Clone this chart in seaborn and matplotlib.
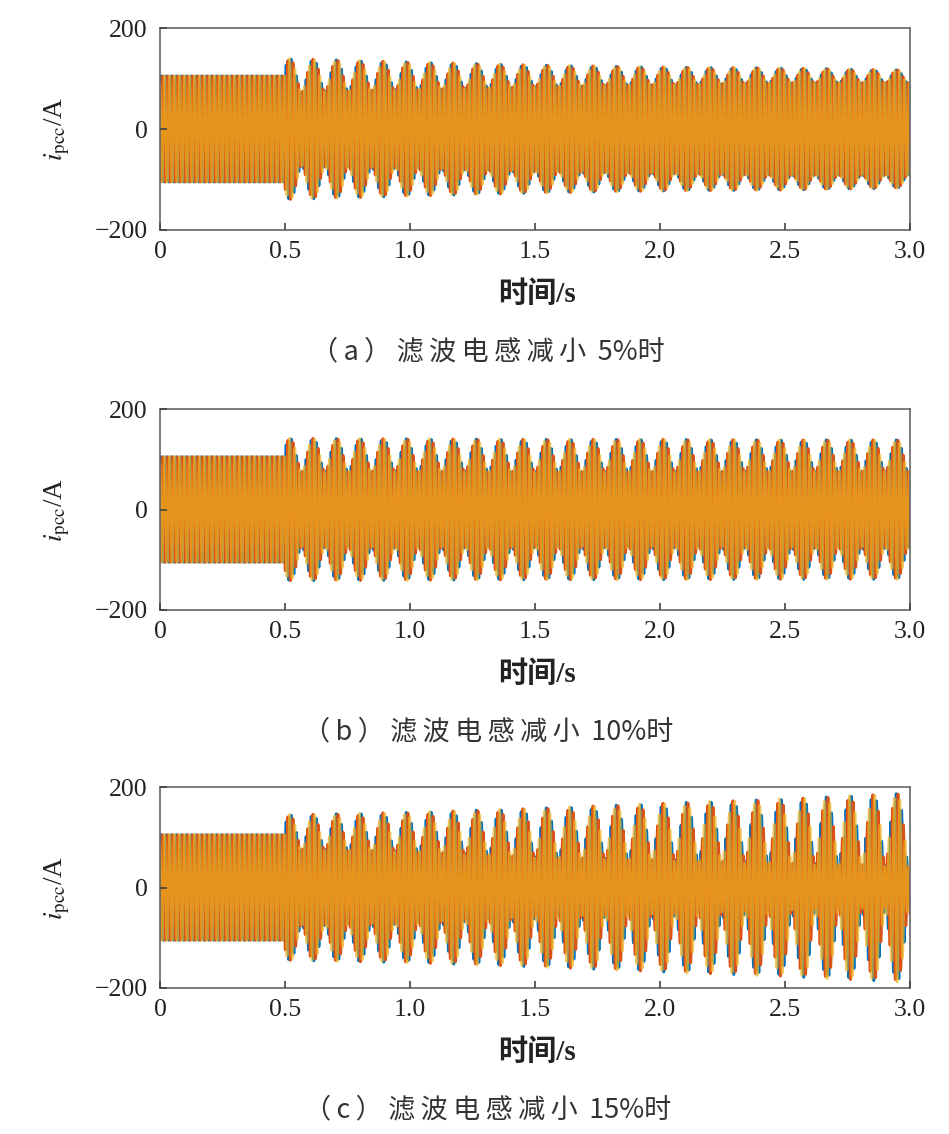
import numpy as np
import pandas as pd
import matplotlib
matplotlib.use("Agg")
import matplotlib.pyplot as plt
import seaborn as sns

# ---- values ----
f_grid = 50.0            # fundamental, Hz
f_beat = 10.71           # envelope beat frequency after the disturbance, Hz
t_step = 0.5             # disturbance instant, s
t_first_peak = 0.52      # first envelope maximum, s
amp_pre = 105.0          # current amplitude before 0.5 s, A

# envelope knots (s) and amplitudes:
# fundamental part (amp_main) and oscillating part (amp_osc)
knot_t = [0.5, 1.0, 1.5, 2.0, 2.5, 3.0]
amp_main_a = [106, 105, 105, 105, 106, 104]
amp_osc_a = [34, 28, 22, 18, 15, 13]
amp_main_b = [108, 108, 107, 107, 107, 107]
amp_osc_b = [34, 33, 33, 33, 32, 32]
amp_main_c = [110, 110, 108, 110, 111, 114]
amp_osc_c = [35, 40, 50, 58, 66, 75]

cap_tags = ["a", "b", "c"]
cap_body = "滤波电感减小"
cap_pct = ["5%时", "10%时", "15%时"]
x_ticks = [0, 0.5, 1.0, 1.5, 2.0, 2.5, 3.0]
x_tick_labels = ["0", "0.5", "1.0", "1.5", "2.0", "2.5", "3.0"]
y_ticks = [-200, 0, 200]
y_tick_labels = ["\u2212200", "0", "200"]
phase_names = ["a", "b", "c"]
phase_colors = ["#0072BD", "#D95319", "#EDB120"]
phase_alpha = [1.0, 1.0, 0.7]

sns.set_theme(style="white")
plt.rcParams["font.family"] = ["Liberation Serif", "Noto Sans CJK SC"]
plt.rcParams["mathtext.fontset"] = "stix"
plt.rcParams["axes.unicode_minus"] = False

fs = 6000
t = np.arange(0, 3.0 + 1 / fs, 1 / fs)
f_osc = f_grid - f_beat
psi = 2 * np.pi * (f_grid - f_osc) * t_first_peak


def panel_frame(amp_main, amp_osc):
    a_main = np.interp(t, knot_t, amp_main)
    a_osc = np.interp(t, knot_t, amp_osc)
    after = t >= t_step
    rows = []
    for k, ph in enumerate(phase_names):
        sh = 2 * np.pi * k / 3
        pre = amp_pre * np.sin(2 * np.pi * f_grid * t - sh)
        post = (a_main * np.sin(2 * np.pi * f_grid * t - sh)
                + a_osc * np.sin(2 * np.pi * f_osc * t - sh + psi))
        rows.append(pd.DataFrame({"t": t, "i": np.where(after, post, pre), "phase": ph}))
    return pd.concat(rows, ignore_index=True)


fig = plt.figure(figsize=(9.49, 11.34), dpi=100)
W, H = 949, 1134
panels = [(amp_main_a, amp_osc_a, 28, 230), (amp_main_b, amp_osc_b, 409, 610),
          (amp_main_c, amp_osc_c, 787, 988)]
ts = "\u2009"

for n, (am, ao, top, bot) in enumerate(panels):
    ax = fig.add_axes([160 / W, 1 - bot / H, 750 / W, (bot - top) / H])
    df = panel_frame(am, ao)
    for ph, col, al in zip(phase_names, phase_colors, phase_alpha):
        sns.lineplot(data=df[df["phase"] == ph], x="t", y="i", color=col, alpha=al,
                     estimator=None, sort=False, linewidth=2.0, ax=ax)
    ax.set_axisbelow(False)
    ax.set_xlim(0, 3.0)
    ax.set_ylim(-200, 200)
    ax.set_xticks(x_ticks)
    ax.set_xticklabels(x_tick_labels)
    ax.set_yticks(y_ticks)
    ax.set_yticklabels(y_tick_labels)
    ax.tick_params(direction="in", length=5, width=1.2, color="#444444",
                   labelsize=18.5, bottom=True, left=True, labelcolor="#222222")
    ax.tick_params(axis="x", pad=8)
    ax.tick_params(axis="y", pad=9)
    for sp in ax.spines.values():
        sp.set_color("#666666")
        sp.set_linewidth(1.2)
    ax.set_xlabel("")
    ax.set_ylabel(r"$i_{\mathrm{pcc}}$/A", fontsize=19.5, color="#222222")
    ax.yaxis.set_label_coords(-0.117, 0.5)
    fig.text(537 / W, 1 - (bot + 64) / H, "时间/s", ha="center", va="center",
             fontsize=21, fontweight="bold", color="#222222")
    caption = ("（" + ts + cap_tags[n] + ts + "）" + ts + ts.join(cap_body)
               + " " + ts + cap_pct[n])
    fig.text(488 / W, 1 - (bot + 122) / H, caption, ha="center", va="center",
             fontsize=19.5, fontweight="medium", color="#333333",
             family=["Noto Sans CJK SC", "DejaVu Sans"])

fig.savefig("out.png", dpi=100)
